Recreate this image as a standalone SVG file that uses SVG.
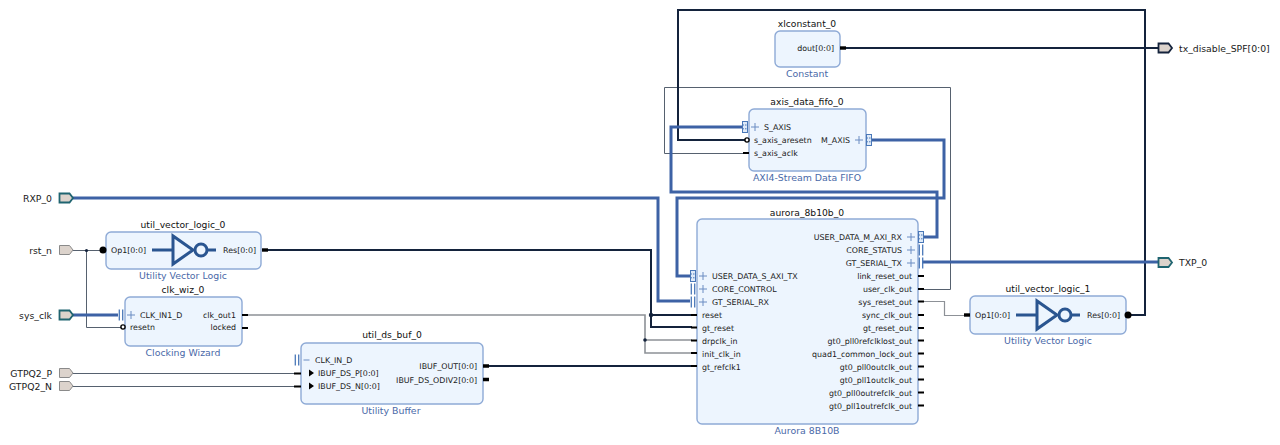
<svg xmlns="http://www.w3.org/2000/svg" width="1280" height="445" viewBox="0 0 1280 445">
<style>
text{font-family:"DejaVu Sans","Liberation Sans",sans-serif;fill:#1a1a1a}
.t{font-size:9.2px;text-anchor:middle;fill:#111}
.s{font-size:9.4px;text-anchor:middle;fill:#4a69a8}
.p{font-size:7.9px}
.e{text-anchor:end}
.ext{font-size:9.3px}
.box{fill:#edf5fe;stroke:#8eaad6;stroke-width:1.4}
.w{fill:none}
.bl{stroke:#3d62a5;stroke-width:3}
.dk{stroke:#14233c;stroke-width:2}
.gr{stroke:#8d9197;stroke-width:1.6}
.th{stroke:#56616f;stroke-width:1}
.tk{stroke:#000;stroke-width:2}
.tb{stroke:#000;stroke-width:3.4}
.inv{fill:none;stroke:#2a5590;stroke-width:3}
.port{fill:#dcd3cc;stroke-width:1.8}
</style>
<defs>
<path id="plus" d="M-4,0h8M0,-4v8" fill="none" stroke="#6b8cc2" stroke-width="1"/>
<path id="pipes" d="M-1.7,-5.5v11M1.7,-5.5v11" fill="none" stroke="#4a78b8" stroke-width="1.3"/>
<g id="axi"><rect x="-2.5" y="-5.5" width="5" height="11" fill="#dfeaf8" stroke="#4a78b8" stroke-width="1"/><path d="M-2.5,-2h5M-2.5,1.8h5" stroke="#4a78b8" stroke-width="1" stroke-dasharray="1.5 1"/></g>
</defs>
<g id="connectors">
<path class="w gr" d="M246,315H645V353H692M645,340H692"/>
<path class="w th" d="M918,289.500H950.500V87.500H664.500V153.500H745"/>
<path class="w gr" style="stroke-width:1.2" d="M918,301.500H944.500V315.500H966"/>
<path class="w th" d="M73,250.500H100M86.500,250.500V327.500H122"/>
<path class="w th" d="M73,373.500H296M73,386.500H296"/>
<path class="w dk" d="M262,250H651V327H692M651,315H692"/>
<path class="w dk" d="M483,366H692"/>
<path class="w dk" d="M840,48H1158"/>
<path class="w dk" d="M1128,315H1145V10H678V140H747"/>
<path class="w bl" d="M73,198H658V301H690"/>
<path class="w bl" d="M73,315H118"/>
<path class="w bl" d="M742,127H671V192H937V237H921"/>
<path class="w bl" d="M871,140H944V198H677V276H690"/>
<path class="w bl" d="M922,262H1158"/>
<circle cx="86.500" cy="250.500" r="1.600" fill="#14233c"/>
<circle cx="645" cy="340" r="1.800" fill="#14233c"/>
<circle cx="651" cy="315" r="2.200" fill="#14233c"/>
</g>
<g id="port_RXP_0"><path class="port" stroke="#1f6470" d="M59.500,193.500h10l3.500,4.500l-3.500,4.500h-10z"/><text class="ext e" x="52" y="202">RXP_0</text></g>
<g id="port_rst_n"><path class="port" stroke="#8a8a8a" style="stroke-width:1" d="M59.500,245.500h10l3.500,4.500l-3.500,4.500h-10z"/><text class="ext e" x="52" y="254">rst_n</text></g>
<g id="port_sys_clk"><path class="port" stroke="#1f6470" d="M59.500,310.500h10l3.500,4.500l-3.500,4.500h-10z"/><text class="ext e" x="52" y="319">sys_clk</text></g>
<g id="port_GTPQ2_P"><path class="port" stroke="#8a8a8a" style="stroke-width:1" d="M59.500,368.500h10l3.500,4.500l-3.500,4.500h-10z"/><text class="ext e" x="52" y="377">GTPQ2_P</text></g>
<g id="port_GTPQ2_N"><path class="port" stroke="#8a8a8a" style="stroke-width:1" d="M59.500,381.500h10l3.500,4.500l-3.500,4.500h-10z"/><text class="ext e" x="52" y="390">GTPQ2_N</text></g>
<g id="port_tx_disable_SPF"><path class="port" stroke="#14233c" d="M1158.500,43.500h10l3.500,4.500l-3.500,4.500h-10z"/><text class="ext" x="1179" y="52">tx_disable_SPF[0:0]</text></g>
<g id="port_TXP_0"><path class="port" stroke="#1f6470" d="M1158.500,258h10l3.500,4.500l-3.500,4.500h-10z"/><text class="ext" x="1179" y="266">TXP_0</text></g>

<g id="util_vector_logic_0">
<text class="t" x="183" y="228">util_vector_logic_0</text>
<rect class="box" x="106" y="232" width="155" height="37" rx="5"/>
<circle cx="103" cy="250" r="3.500" fill="#000"/>
<path class="tk" d="M100,250h3"/>
<text class="p" x="111" y="253">Op1[0:0]</text>
<path class="inv" d="M152,250h21M173,236V264L193,250ZM207,250h9"/><circle class="inv" cx="201" cy="250" r="6"/>
<text class="p e" x="256" y="253">Res[0:0]</text>
<path class="tb" d="M262,250h6"/>
<text class="s" x="183" y="279">Utility Vector Logic</text>
</g>
<g id="clk_wiz_0">
<text class="t" x="183" y="293">clk_wiz_0</text>
<rect class="box" x="125" y="297" width="117" height="49" rx="5"/>
<use href="#pipes" x="121" y="315"/><use href="#plus" x="131" y="315"/>
<text class="p" x="140" y="318">CLK_IN1_D</text>
<circle cx="123" cy="327" r="2.100" fill="#fff" stroke="#000" stroke-width="1.400"/>
<text class="p" x="130" y="330">resetn</text>
<text class="p e" x="236" y="318">clk_out1</text>
<text class="p e" x="236" y="330">locked</text>
<path class="tk" d="M242,315h6M242,328h6"/>
<text class="s" x="183" y="356">Clocking Wizard</text>
</g>
<g id="util_ds_buf_0">
<text class="t" x="392" y="338">util_ds_buf_0</text>
<rect class="box" x="301" y="343" width="182" height="61" rx="5"/>
<use href="#pipes" x="297" y="360"/><path d="M303.500,360h6" stroke="#6b8cc2" stroke-width="1"/>
<text class="p" x="315" y="363">CLK_IN_D</text>
<path d="M309,369.500l5,3.500l-5,3.500zM309,382.500l5,3.500l-5,3.500z" fill="#000"/>
<text class="p" x="318" y="376">IBUF_DS_P[0:0]</text>
<text class="p" x="318" y="389">IBUF_DS_N[0:0]</text>
<path class="tk" d="M294,373.500h7M294,386.500h7"/>
<text class="p e" x="477" y="369">IBUF_OUT[0:0]</text>
<text class="p e" x="477" y="383">IBUF_DS_ODIV2[0:0]</text>
<path class="tb" d="M483,366h6M483,379.500h6"/>
<text class="s" x="391" y="414">Utility Buffer</text>
</g>
<g id="xlconstant_0">
<text class="t" x="807" y="27">xlconstant_0</text>
<rect class="box" x="775" y="31" width="65" height="36" rx="5"/>
<text class="p e" x="834" y="51">dout[0:0]</text>
<path class="tb" d="M840,48h6"/>
<text class="s" x="807" y="77">Constant</text>
</g>
<g id="axis_data_fifo_0">
<text class="t" x="807" y="105">axis_data_fifo_0</text>
<rect class="box" x="749" y="109" width="117" height="62" rx="5"/>
<use href="#axi" x="745" y="127"/><use href="#plus" x="755" y="127"/>
<text class="p" x="764" y="130">S_AXIS</text>
<circle cx="747" cy="140" r="2.100" fill="#fff" stroke="#000" stroke-width="1.400"/>
<text class="p" x="754" y="143">s_axis_aresetn</text>
<path class="tk" d="M743,153h6"/>
<text class="p" x="754" y="156">s_axis_aclk</text>
<text class="p e" x="850" y="143">M_AXIS</text>
<use href="#plus" x="859" y="140"/><use href="#axi" x="869" y="140"/>
<text class="s" x="807" y="181">AXI4-Stream Data FIFO</text>
</g>
<g id="aurora_8b10b_0">
<text class="t" x="807" y="216">aurora_8b10b_0</text>
<rect class="box" x="697" y="219" width="221" height="205" rx="5"/>
<use href="#axi" x="693" y="276"/><use href="#plus" x="703" y="276"/>
<use href="#pipes" x="693" y="289"/><use href="#plus" x="703" y="289"/>
<use href="#pipes" x="693" y="302"/><use href="#plus" x="703" y="302"/>
<text class="p" x="712" y="279">USER_DATA_S_AXI_TX</text>
<text class="p" x="712" y="292">CORE_CONTROL</text>
<text class="p" x="712" y="305">GT_SERIAL_RX</text>
<text class="p" x="702" y="318">reset</text>
<text class="p" x="702" y="331">gt_reset</text>
<text class="p" x="702" y="344">drpclk_in</text>
<text class="p" x="702" y="357">init_clk_in</text>
<text class="p" x="702" y="370">gt_refclk1</text>
<path class="tk" d="M691,315h6M691,327.500h6M691,340.500h6M691,353h6M691,366h6"/>
<use href="#plus" x="911" y="237"/><use href="#axi" x="921" y="237"/>
<use href="#plus" x="911" y="250"/><use href="#pipes" x="921" y="250"/>
<use href="#plus" x="911" y="263"/><use href="#pipes" x="921" y="263"/>
<text class="p e" x="902" y="240">USER_DATA_M_AXI_RX</text>
<text class="p e" x="902" y="253">CORE_STATUS</text>
<text class="p e" x="902" y="266">GT_SERIAL_TX</text>
<text class="p e" x="912" y="279">link_reset_out</text>
<text class="p e" x="912" y="292">user_clk_out</text>
<text class="p e" x="912" y="305">sys_reset_out</text>
<text class="p e" x="912" y="318">sync_clk_out</text>
<text class="p e" x="912" y="331">gt_reset_out</text>
<text class="p e" x="912" y="344">gt0_pll0refclklost_out</text>
<text class="p e" x="912" y="357">quad1_common_lock_out</text>
<text class="p e" x="912" y="370">gt0_pll0outclk_out</text>
<text class="p e" x="912" y="383">gt0_pll1outclk_out</text>
<text class="p e" x="912" y="396">gt0_pll0outrefclk_out</text>
<text class="p e" x="912" y="409">gt0_pll1outrefclk_out</text>
<path class="tk" d="M918,276h6M918,289h6M918,301.500h6M918,315h6M918,328h6M918,340.500h6M918,353.500h6M918,366.500h6M918,379.500h6M918,392.500h6M918,405.500h6"/>
<text class="s" x="807" y="434">Aurora 8B10B</text>
</g>
<g id="util_vector_logic_1">
<text class="t" x="1048" y="292">util_vector_logic_1</text>
<rect class="box" x="970" y="296" width="156" height="38" rx="5"/>
<path class="tb" d="M964,315h6"/>
<text class="p" x="975" y="318">Op1[0:0]</text>
<path class="inv" d="M1016,315h21M1037,301V329L1057,315ZM1071,315h9"/><circle class="inv" cx="1065" cy="315" r="6"/>
<text class="p e" x="1120" y="318">Res[0:0]</text>
<circle cx="1128" cy="315" r="3.500" fill="#000"/>
<text class="s" x="1048" y="344">Utility Vector Logic</text>
</g>
</svg>
